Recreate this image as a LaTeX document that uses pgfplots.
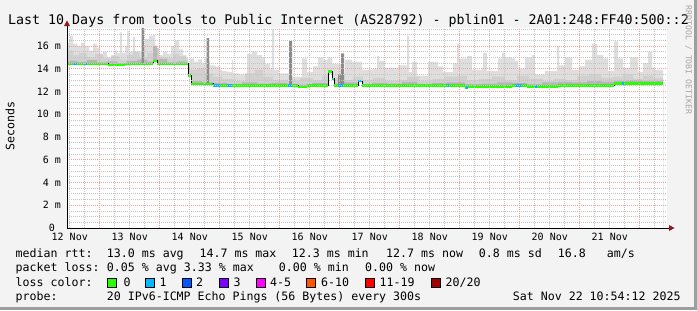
\documentclass[border=0pt]{standalone}
\usepackage{pgfplots}
\pgfplotsset{compat=1.18}
\usepackage{fontspec}
\setmainfont{DejaVu Sans Mono}
\setmonofont{DejaVu Sans Mono}
\definecolor{bgc}{HTML}{F3F3F3}
\definecolor{shadeb}{HTML}{9E9E9E}
\definecolor{mgrid}{HTML}{F2A0A0}
\definecolor{mingrid}{HTML}{C4C4C4}
\definecolor{arrowc}{HTML}{8B1A1A}
\definecolor{smokea}{HTML}{DEDEDE}
\definecolor{smokeb}{HTML}{D0D0D0}
\definecolor{smokec}{HTML}{B6B6B6}
\definecolor{smoked}{HTML}{8C8C8C}
\definecolor{lz}{HTML}{26FF00}
\definecolor{lone}{HTML}{00B8FF}
\definecolor{ltwo}{HTML}{0059FF}
\definecolor{lthree}{HTML}{7E00FF}
\definecolor{lfour}{HTML}{FF00FF}
\definecolor{lsix}{HTML}{FF5500}
\definecolor{leleven}{HTML}{FF0000}
\definecolor{ltwenty}{HTML}{A10000}
\newcommand{\tickfont}{\fontsize{10bp}{12bp}\selectfont}
\newcommand{\legfont}{\fontsize{11.6bp}{14bp}\selectfont}
\newcommand{\titlefont}{\fontsize{13.3bp}{16bp}\selectfont}
\newcommand{\smallfont}{\fontsize{8.2bp}{9bp}\selectfont}
\begin{document}
\begin{tikzpicture}[x=1bp,y=1bp]
\fill[bgc] (0,0) rectangle (697,310);
\fill[shadeb] (0,0) rectangle (697,3);
\fill[shadeb] (694,0) rectangle (697,310);
\begin{axis}[
  at={(67bp,82bp)}, anchor=south west,
  scale only axis, width=600bp, height=200bp,
  xmin=0, xmax=600, ymin=0, ymax=17.58,
  axis on top,
  axis line style={draw=none},
  axis background/.style={fill=white},
  major tick length=0pt, minor tick length=0pt,
  xtick={2.75,62.75,122.75,182.75,242.75,302.75,362.75,422.75,482.75,542.75},
  xticklabels={12~Nov,13~Nov,14~Nov,15~Nov,16~Nov,17~Nov,18~Nov,19~Nov,20~Nov,21~Nov},
  minor xtick={2.75,17.75,...,587.75},
  extra x ticks={32.75,92.75,152.75,212.75,272.75,332.75,392.75,452.75,512.75,572.75},
  extra x tick labels={},
  extra x tick style={grid=major, major tick length=0pt},
  ytick={0,2,...,16},
  yticklabels={0~~,2~m,4~m,6~m,8~m,10~m,12~m,14~m,16~m},
  minor ytick={0.5,1,...,17.5},
  ymajorgrids, xminorgrids, yminorgrids,
  major grid style={mgrid, dash pattern=on 1bp off 1bp, line width=0.8bp},
  minor grid style={mingrid, dash pattern=on 1bp off 1bp, line width=0.8bp},
  xticklabel style={font=\tickfont, anchor=base, yshift=-12.7bp},
  yticklabel style={font=\tickfont, anchor=base east, xshift=-2.5bp, yshift=-3.6bp},
]
% light smoke (upper envelope)
\addplot[const plot, fill=smokea, draw=none] coordinates {
(0,16.3) (3,16.9) (6,16.2) (10,16.0) (14,16.3) (18,16.0) (22,15.6) (26,16.2) (30,15.8) (33,15.3)
(36,15.5) (40,15.0) (44,15.2) (47,15.6) (50,15.4) (53,17.2) (55,15.4) (58,16.0) (60,17.3) (62,15.5)
(66,16.8) (68,15.3) (72,15.5) (75,16.0) (78,16.6) (82,16.9) (86,17.0) (88,15.8) (92,15.2) (96,15.5)
(100,15.3) (104,16.0) (108,16.5) (112,15.7) (116,15.2) (119,15.0)
(121,14.4) (123,14.9) (127,14.6) (131,14.8) (135,14.5) (138,14.9) (140,14.7) (143,14.3) (148,14.2)
(153,13.9) (155,13.8) (160,13.7) (165,14.8) (166,13.6) (172,13.5) (180,15.3) (185,15.5) (190,15.2)
(195,15.0) (198,14.4) (203,14.0) (205,17.5) (207,13.9) (212,13.6) (222,13.3) (226,13.3) (235,14.9)
(240,13.7) (246,14.2) (251,15.0) (256,14.8) (261,15.0) (265,14.4) (274,13.6) (278,14.8) (285,14.6)
(295,13.9) (298,13.9) (305,14.0) (310,15.1) (312,14.7) (318,14.1) (331,14.3) (340,16.9) (342,13.7)
(345,14.6) (350,13.4) (361,14.6) (371,14.2) (376,13.7) (386,14.5) (390,16.2) (392,14.9) (400,15.1)
(405,13.9) (415,14.1) (416,15.4) (420,13.8) (431,14.9) (435,15.4) (438,15.0) (445,14.9) (448,14.7)
(451,14.0) (458,15.0) (465,15.2) (468,13.5) (478,13.8) (490,16.0) (492,14.3) (498,15.0) (505,13.9)
(513,14.2) (518,14.8) (525,16.2) (530,15.2) (536,14.9) (541,13.8) (547,16.4) (551,14.9) (556,14.1)
(563,15.0) (571,13.7) (576,14.5) (581,15.5) (585,14.1) (588,13.9) (596,13.9)
} \closedcycle;
% medium smoke
\addplot[const plot, fill=smokeb, draw=none] coordinates {
(0,15.6) (6,15.2) (12,15.4) (20,15.0) (28,15.3) (36,14.9) (44,15.1) (52,14.8) (60,15.2) (66,15.5)
(72,15.0) (80,15.4) (86,15.8) (92,15.0) (100,14.9) (106,15.3) (112,15.1) (119,14.8)
(121,14.4) (123,13.9) (130,14.0) (138,13.6) (146,13.3) (155,13.1) (166,12.9) (178,13.6) (188,13.9)
(196,13.3) (206,13.0) (220,12.9) (233,13.2) (246,13.0) (255,13.4) (265,13.2) (276,13.0) (286,13.3)
(296,13.0) (306,13.2) (318,12.9) (330,13.0) (340,13.3) (352,12.9) (365,13.1) (378,13.3) (390,13.4)
(400,13.0) (412,13.1) (425,13.3) (438,13.0) (450,13.4) (462,13.1) (476,12.9) (486,13.1) (498,13.0)
(510,13.4) (522,13.5) (534,13.2) (546,13.3) (556,13.5) (566,13.1) (576,13.4) (586,13.2) (596,13.2)
} \closedcycle;
% dark smoke near median
\addplot[const plot, fill=smokec, draw=none] coordinates {
(0,14.7) (10,14.6) (20,14.75) (30,14.55) (40,14.65) (50,14.5) (60,14.7) (70,14.8) (80,14.65)
(90,14.85) (100,14.55) (110,14.65) (119,14.55) (121,13.6) (124,12.9) (135,12.8) (146,12.75) (160,12.65)
(175,12.8) (190,12.7) (205,12.75) (220,12.65) (231,12.6) (245,12.75) (260,12.7) (275,12.8)
(290,12.65) (305,12.75) (320,12.7) (335,12.85) (350,12.65) (365,12.75) (380,12.8) (398,12.65)
(415,12.7) (430,12.8) (445,12.75) (460,12.65) (475,12.8) (491,12.85) (505,12.8) (520,12.9)
(535,12.85) (547,12.95) (560,13.0) (575,12.95) (590,12.95) (596,12.95)
} \closedcycle;
% dark spikes
\addplot[const plot, fill=smoked, draw=none] coordinates {(74.7,17.6) (77,17.6)} \closedcycle;
\addplot[const plot, fill=smoked, draw=none] coordinates {(139.7,16.7) (142,16.7)} \closedcycle;
\addplot[const plot, fill=smoked, draw=none] coordinates {(222,16.45) (225,16.45)} \closedcycle;
\addplot[const plot, fill=smoked, draw=none] coordinates {(274,15.35) (277,15.35)} \closedcycle;
\addplot[const plot, fill=smokec, draw=none] coordinates {(86,16.0) (90,16.0)} \closedcycle;
\addplot[const plot, fill=smoked, draw=none] coordinates {(271,13.5) (274,13.5)} \closedcycle;
% white below median
\addplot[const plot, fill=white, draw=none] coordinates {
(0,14.42) (41,14.33) (58,14.42) (86,14.68) (90,14.42) (121,13.42) (124,12.66) (146,12.5)
(231,12.4) (240,12.5) (261,13.74) (265,13.1) (267,12.5) (291,12.92) (295,12.5) (398,12.37)
(401,12.42) (445,12.5) (460,12.42) (491,12.54) (547,12.72) (596,12.72)
} \closedcycle;
% median rtt
\addplot[const plot, black, line width=1bp] coordinates {
(0,14.42) (41,14.33) (58,14.42) (86,14.68) (90,14.42) (121,13.42) (124,12.66) (146,12.5)
(231,12.4) (240,12.5) (261,13.74) (265,13.1) (267,12.5) (291,12.92) (295,12.5) (398,12.37)
(401,12.42) (445,12.5) (460,12.42) (491,12.54) (547,12.72) (596,12.72)
};
\addplot[jump mark left, lz, line width=2.6bp] coordinates {
(0,14.42) (41,14.33) (58,14.42) (86,14.68) (90,14.42) (121,13.42) (124,12.66) (146,12.5)
(231,12.4) (240,12.5) (261,13.74) (265,13.1) (267,12.5) (291,12.92) (295,12.5) (398,12.37)
(401,12.42) (445,12.5) (460,12.42) (491,12.54) (547,12.72) (596,12.72)
};
% loss 1/20 segments
\addplot[lone, line width=2.6bp] coordinates {(6,14.42) (10,14.42)};
\addplot[lone, line width=2.6bp] coordinates {(17,14.42) (20,14.42)};
\addplot[lone, line width=2.6bp] coordinates {(145,12.66) (146,12.66)};
\addplot[lone, line width=2.6bp] coordinates {(147,12.5) (153,12.5)};
\addplot[lone, line width=2.6bp] coordinates {(160,12.5) (165,12.5)};
\addplot[lone, line width=2.6bp] coordinates {(221,12.5) (225,12.5)};
\addplot[lone, line width=2.6bp] coordinates {(265,13.1) (266,13.1)};
\addplot[lone, line width=2.6bp] coordinates {(271,12.5) (276,12.5)};
\addplot[lone, line width=2.6bp] coordinates {(291,12.92) (295,12.92)};
\addplot[lone, line width=2.6bp] coordinates {(380,12.5) (382,12.5)};
\addplot[lone, line width=2.6bp] coordinates {(399,12.37) (401,12.37)};
\addplot[lone, line width=2.6bp] coordinates {(448,12.5) (455,12.5)};
\addplot[lone, line width=2.6bp] coordinates {(467,12.42) (470,12.42)};
\addplot[lone, line width=2.6bp] coordinates {(555,12.72) (557,12.72)};
\end{axis}
% axes
\draw[black, line width=1bp] (67,82) -- (669,82);
\fill[arrowc] (669,79) -- (674.5,82) -- (669,85) -- cycle;
\draw[black, line width=1bp] (67,82) -- (67,284);
\fill[arrowc] (64,284) -- (67,289.5) -- (70,284) -- cycle;
% title and labels
\node[font=\titlefont, anchor=base, inner sep=0] at (348.5,286) {Last 10 Days from tools to Public Internet (AS28792) - pblin01 - 2A01:248:FF40:500::2};
\node[font=\legfont, rotate=90, inner sep=0] at (10,184) {Seconds};
\node[font=\smallfont, rotate=-90, inner sep=0, text=black!35] at (688.5,250) {RRDTOOL / TOBI OETIKER};
% legend
\begin{scope}[every node/.style={font=\legfont, anchor=base west, inner sep=0}]
\node at (15.5,52.3) {median rtt:};
\node at (106.7,52.3) {13.0 ms avg};
\node at (199.4,52.3) {14.7 ms max};
\node at (291.7,52.3) {12.3 ms min};
\node at (386,52.3) {12.7 ms now};
\node at (478.7,52.3) {0.8 ms sd};
\node at (557.7,52.3) {16.8};
\node at (606.7,52.3) {am/s};
\node at (15.5,38.3) {packet loss:};
\node at (106.7,38.3) {0.05 \% avg};
\node at (183.7,38.3) {3.33 \% max};
\node at (278.7,38.3) {0.00 \% min};
\node at (365,38.3) {0.00 \% now};
\node at (15.5,24) {loss color:};
\node at (123.4,24) {0};
\node at (159.4,24) {1};
\node at (196,24) {2};
\node at (233.4,24) {3};
\node at (270,24) {4-5};
\node at (321,24) {6-10};
\node at (379.4,24) {11-19};
\node at (445.4,24) {20/20};
\node at (15.5,10) {probe:};
\node at (106.7,10) {20 IPv6-ICMP Echo Pings (56 Bytes) every 300s};
\node at (512.7,10) {Sat Nov 22 10:54:12 2025};
\end{scope}
\foreach \sx/\col in {107.5/lz,145/lone,182.5/ltwo,219.3/lthree,256.8/lfour,306.8/lsix,365.8/leleven,431/ltwenty}{
  \filldraw[fill=\col, draw=black, line width=0.8bp] (\sx,23) rectangle (\sx+9,31.5);
}
\end{tikzpicture}
\end{document}
